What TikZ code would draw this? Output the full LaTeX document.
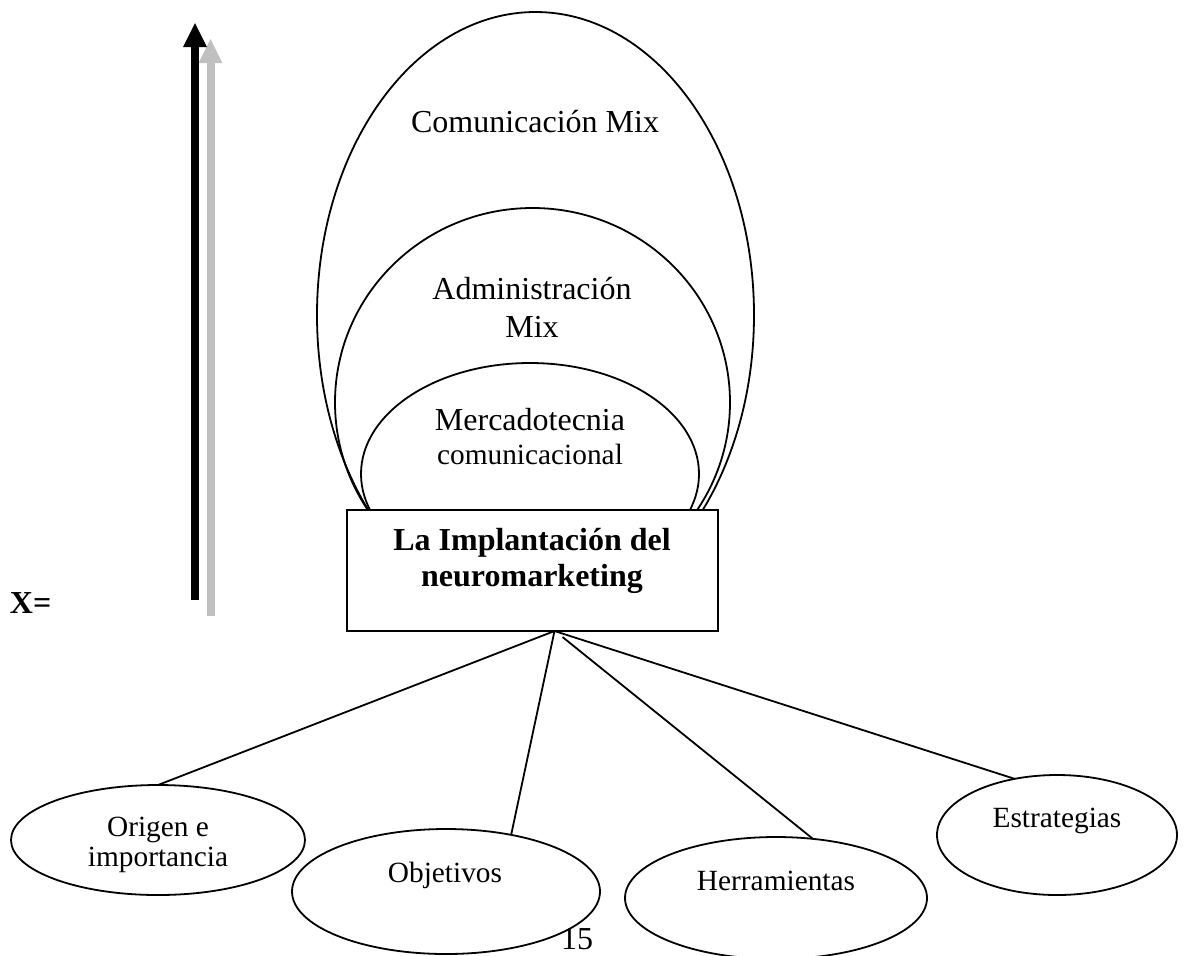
\documentclass[tikz,border=0pt]{standalone}
\usepackage{fontspec}
\setmainfont{Liberation Serif}
\usepackage{xcolor}
\usepackage{tikz}
\usetikzlibrary{shapes,arrows.meta,positioning}
\definecolor{arrowgray}{RGB}{192,192,192}

\begin{document}
\begin{tikzpicture}[
    x=0.5pt, y=-0.5pt,
    every node/.style={inner sep=0pt, outer sep=0pt, font=\fontsize{16}{19}\selectfont},
    ring/.style={draw, ellipse, line width=0.9pt},
    topic/.style={draw, ellipse, line width=0.9pt},
    subtxt/.style={font=\fontsize{14.67}{15}\selectfont, align=center},
    implbox/.style={draw, fill=white, line width=0.9pt, minimum width=185.5pt, minimum height=60.5pt},
    link/.style={draw, line width=0.9pt},
    bigarrow/.style={line width=4pt, -{Triangle[width=12pt, length=12pt, line width=0pt]}}
]
\useasboundingbox (0,0) rectangle (1184,955);

\node[ring, minimum width=218.5pt, minimum height=303pt] (comunicacion) at (535.5,315) {};
\node[ring, minimum width=197.5pt, minimum height=194.5pt] (administracion) at (532.5,402.5) {};
\node[ring, minimum width=169pt, minimum height=111pt] (mercadotecnia) at (530,474) {};
\node[implbox] (impl) at (532.5,570.5) {};

\node[anchor=base] (comtxt) at (535,132) {Comunicación Mix};
\node[align=center] (admtxt) at (532,307) {Administración\\Mix};
\node[align=center, font=\fontsize{16}{17}\selectfont] (mertxt) at (530,437) {Mercadotecnia\\{\fontsize{14.67}{17}\selectfont comunicacional}};
\node[align=center, font=\bfseries\fontsize{16}{18}\selectfont] (impltxt) at (532,560.5) {La Implantación del\\neuromarketing};

\node[topic, minimum width=147pt, minimum height=55pt] (origen) at (158,840) {};
\node[subtxt] (origtxt) at (158,845) {Origen e\\importancia};
\node[topic, minimum width=154pt, minimum height=62.5pt] (objetivos) at (446,891.5) {};
\node[subtxt, anchor=base] (objtxt) at (445,882) {Objetivos};
\node[topic, minimum width=151pt, minimum height=61pt] (herramientas) at (776,898) {};
\node[subtxt, anchor=base] (hertxt) at (776,890) {Herramientas};
\node[topic, minimum width=120pt, minimum height=60pt] (estrategias) at (1057,835) {};
\node[subtxt, anchor=base] (esttxt) at (1057,827) {Estrategias};

\node[anchor=base] (pagenum) at (577,949) {15};
\node[anchor=base west, font=\bfseries\fontsize{16}{19}\selectfont] (xlabel) at (10,613) {X=};

\coordinate (hub) at ([xshift=11pt]impl.south);
\coordinate (hubr) at ([xshift=15pt, yshift=-3pt]impl.south);
\draw[link] (hub) -- (origen.north);
\draw[link] (hub) -- (objetivos.41);
\draw[link] (hubr) -- (herramientas.58);
\draw[link] (hub) -- (estrategias.127);

\coordinate (graybot) at (210.5,616);
\coordinate (graytop) at (210.5,39);
\coordinate (blackbot) at (195,600);
\coordinate (blacktop) at (195,23);
\draw[bigarrow, arrowgray] (graybot) -- (graytop);
\draw[bigarrow, black] (blackbot) -- (blacktop);

\end{tikzpicture}
\end{document}
